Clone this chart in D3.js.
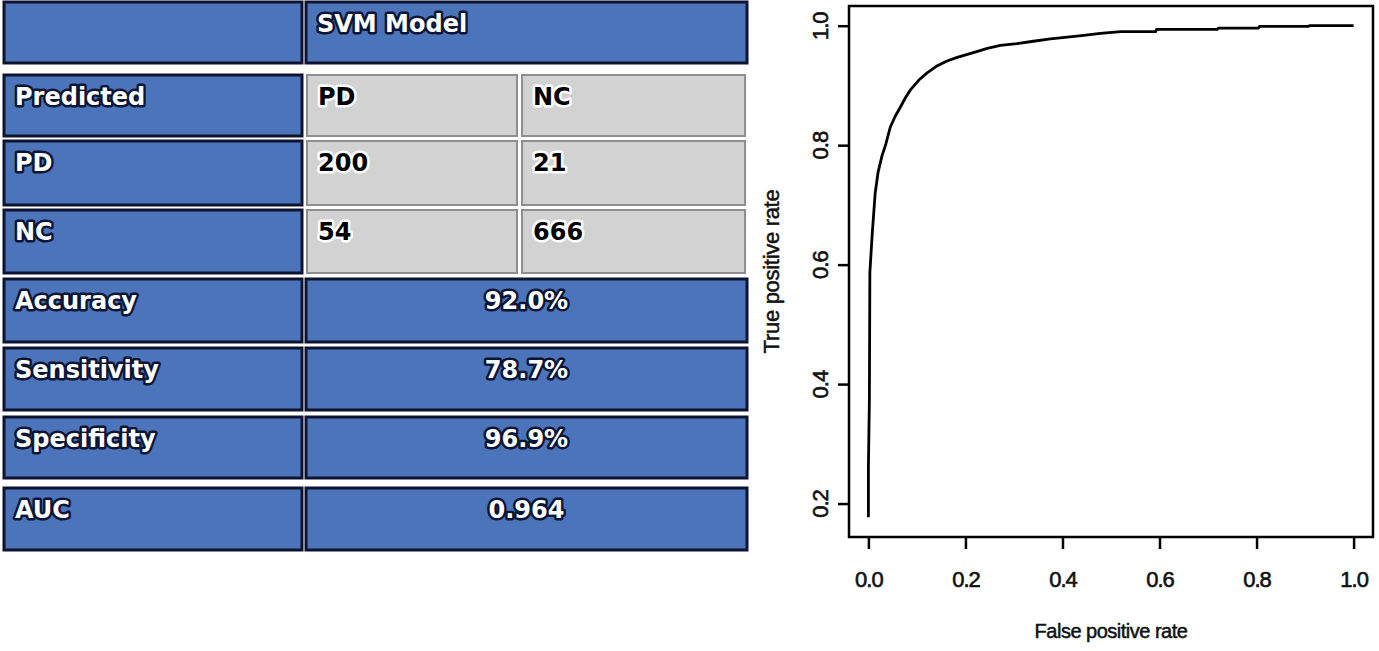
<!DOCTYPE html>
<html>
<head>
<meta charset="utf-8">
<script src="https://cdn.jsdelivr.net/npm/d3@7"></script>
<style>
  body { margin: 0; background: #fff; }
  svg { display: block; }
  .cellText { font-family: "DejaVu Sans", Verdana, sans-serif; font-weight: bold; font-size: 24px; paint-order: stroke; stroke-linejoin: round; }
  .axisText { font-family: "Liberation Sans", Arial, sans-serif; }
</style>
</head>
<body>
<div class="chart"></div>
<script>
// table data
var modelName = "SVM Model";
var rowLabels = ["Predicted", "PD", "NC", "Accuracy", "Sensitivity", "Specificity", "AUC"];
var classLabels = ["PD", "NC"];
var confusion = [[200, 21], [54, 666]];
var metricValues = ["92.0%", "78.7%", "96.9%", "0.964"];

// ROC curve
var fpr = [0.000, 0.000, 0.002, 0.003, 0.008, 0.014, 0.020, 0.028, 0.036, 0.045, 0.055, 0.066, 0.076,
           0.087, 0.104, 0.121, 0.140, 0.162, 0.183, 0.204, 0.225, 0.245, 0.272, 0.306, 0.340, 0.375,
           0.410, 0.444, 0.478, 0.520, 0.592, 0.594, 0.719, 0.721, 0.804, 0.806, 0.907, 0.909, 1.000];
var tpr = [0.177, 0.260, 0.373, 0.587, 0.653, 0.720, 0.755, 0.782, 0.802, 0.830, 0.848, 0.864, 0.879,
           0.893, 0.909, 0.921, 0.932, 0.941, 0.947, 0.952, 0.957, 0.962, 0.967, 0.970, 0.974, 0.978,
           0.981, 0.984, 0.987, 0.990, 0.990, 0.994, 0.994, 0.996, 0.996, 0.999, 0.999, 1.000, 1.000];
var xTicks = [0, 0.2, 0.4, 0.6, 0.8, 1.0];
var yTicks = [0.2, 0.4, 0.6, 0.8, 1.0];
var xaxistext = "False positive rate";
var yaxistext = "True positive rate";

var W = 1379, H = 651;
var svg = d3.select(".chart").append("svg")
    .attr("width", W)
    .attr("height", H);

// ---------- table ----------
// layout: row bands (top, bottom)
var rowBands = [[2, 63], [75, 136], [141, 205], [210, 273], [279, 342], [348, 410], [417, 478], [488, 550]];
var labelCol = [4, 302], valueCol = [306, 747];
var grayCols = [[307, 517], [522, 745]];
var blue = "#4b74ba", blueEdge = "#0e1430", gray = "#d2d2d2", grayEdge = "#8e8e8e";

var cells = [];
cells.push({ x0: labelCol[0], x1: labelCol[1], r: 0, kind: "blue", text: "" });
cells.push({ x0: valueCol[0], x1: valueCol[1], r: 0, kind: "blue", text: modelName, align: "left" });
rowLabels.forEach(function(lab, i) {
  var r = i + 1;
  cells.push({ x0: labelCol[0], x1: labelCol[1], r: r, kind: "blue", text: lab, align: "left" });
  if (i === 0) {
    classLabels.forEach(function(c, j) {
      cells.push({ x0: grayCols[j][0], x1: grayCols[j][1], r: r, kind: "gray", text: c, align: "left" });
    });
  } else if (i <= 2) {
    confusion[i - 1].forEach(function(v, j) {
      cells.push({ x0: grayCols[j][0], x1: grayCols[j][1], r: r, kind: "gray", text: String(v), align: "left" });
    });
  } else {
    cells.push({ x0: valueCol[0], x1: valueCol[1], r: r, kind: "blue", text: metricValues[i - 3], align: "middle" });
  }
});

var cellG = svg.append("g").attr("class", "table")
  .selectAll("g").data(cells).enter().append("g");

cellG.append("rect")
    .attr("x", function(d) { return d.x0; })
    .attr("y", function(d) { return rowBands[d.r][0]; })
    .attr("width", function(d) { return d.x1 - d.x0; })
    .attr("height", function(d) { return rowBands[d.r][1] - rowBands[d.r][0]; })
    .attr("fill", function(d) { return d.kind === "blue" ? blue : gray; })
    .attr("stroke", function(d) { return d.kind === "blue" ? blueEdge : grayEdge; })
    .attr("stroke-width", function(d) { return d.kind === "blue" ? 3 : 2; });

cellG.append("text")
    .attr("class", "cellText")
    .attr("x", function(d) { return d.align === "middle" ? (d.x0 + d.x1) / 2 : d.x0 + 11; })
    .attr("y", function(d) { return rowBands[d.r][0] + 30; })
    .attr("text-anchor", function(d) { return d.align === "middle" ? "middle" : "start"; })
    .attr("fill", function(d) { return d.kind === "blue" ? "#fff" : "#000"; })
    .attr("stroke", function(d) { return d.kind === "blue" ? "#0b1535" : "#fff"; })
    .attr("stroke-width", 5)
    .text(function(d) { return d.text; });

// ---------- ROC plot ----------
var box = { left: 849, right: 1373, top: 6, bottom: 537 };

var x = d3.scaleLinear().domain([-0.04, 1.04]).range([box.left, box.right]);
var y = d3.scaleLinear().domain([0.144, 1.033]).range([box.bottom, box.top]);

var xAxis = d3.axisBottom(x).tickValues(xTicks).tickSize(12).tickFormat(d3.format(".1f"));
var yAxis = d3.axisLeft(y).tickValues(yTicks).tickSize(11).tickFormat(d3.format(".1f"));

var gx = svg.append("g")
    .attr("class", "x axis")
    .attr("transform", "translate(0," + box.bottom + ")")
    .call(xAxis);
gx.select(".domain").remove();
gx.selectAll("line").attr("stroke", "#000").attr("stroke-width", 2.5);
gx.selectAll("text")
    .attr("class", "axisText")
    .attr("y", 50).attr("dy", 0)
    .style("font-size", "22px")
    .style("letter-spacing", "-1px")
    .attr("fill", "#111")
    .attr("stroke", "#111").attr("stroke-width", 0.6);

var gy = svg.append("g")
    .attr("class", "y axis")
    .attr("transform", "translate(" + box.left + ",0)")
    .call(yAxis);
gy.select(".domain").remove();
gy.selectAll("line").attr("stroke", "#000").attr("stroke-width", 2.5);
gy.selectAll("text")
    .attr("class", "axisText")
    .attr("x", 0).attr("y", -21).attr("dy", 0)
    .attr("transform", "rotate(-90)")
    .attr("text-anchor", "middle")
    .style("font-size", "22px")
    .style("letter-spacing", "-1px")
    .attr("fill", "#111")
    .attr("stroke", "#111").attr("stroke-width", 0.6);

// plot box
svg.append("rect")
    .attr("x", box.left).attr("y", box.top)
    .attr("width", box.right - box.left).attr("height", box.bottom - box.top)
    .attr("fill", "none").attr("stroke", "#000").attr("stroke-width", 2.5);

// curve
var pts = fpr.map(function(f, i) { return [f, tpr[i]]; });
svg.append("path")
    .datum(pts)
    .attr("fill", "none")
    .attr("stroke", "#000")
    .attr("stroke-width", 2.8)
    .attr("stroke-linejoin", "round")
    .attr("d", d3.line().x(function(d) { return x(d[0]); }).y(function(d) { return y(d[1]); }));

// axis titles
svg.append("text")
    .attr("class", "axisText")
    .attr("x", (box.left + box.right) / 2)
    .attr("y", 638)
    .attr("text-anchor", "middle")
    .style("font-size", "20px")
    .style("letter-spacing", "-0.5px")
    .attr("fill", "#111")
    .attr("stroke", "#111").attr("stroke-width", 0.5)
    .text(xaxistext);

svg.append("text")
    .attr("class", "axisText")
    .attr("transform", "translate(779," + (box.top + box.bottom) / 2 + ") rotate(-90)")
    .attr("text-anchor", "middle")
    .style("font-size", "22px")
    .style("letter-spacing", "-0.3px")
    .attr("fill", "#111")
    .attr("stroke", "#111").attr("stroke-width", 0.5)
    .text(yaxistext);
</script>
</body>
</html>
